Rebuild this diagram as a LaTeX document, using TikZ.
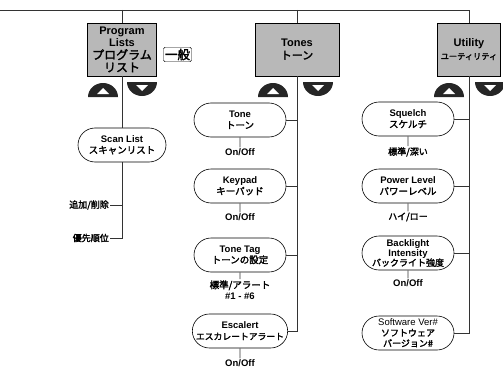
\documentclass[tikz,border=0pt]{standalone}
\usepackage{fontspec}
\setmainfont{Liberation Sans}
\newfontfamily\jp[AutoFakeBold=2.2]{Noto Sans CJK JP}
\usetikzlibrary{positioning,shapes.misc}
\tikzset{
    font=\bfseries\fontsize{9.5}{11}\selectfont,
    wire/.style={line width=0.6pt,black!80},
    menu head/.style={rectangle,draw,fill=black!28,align=center,minimum height=53pt,inner sep=1pt,font=\bfseries\fontsize{11}{12.5}\selectfont},
    menu item/.style={rounded rectangle,draw,line width=0.6pt,align=center,minimum width=94pt,minimum height=34pt,inner sep=1pt},
    menu value/.style={align=center,inner sep=1pt},
    upkey/.pic={
        \fill[black!85] (-15,0) arc[start angle=180,end angle=360,x radius=15,y radius=14] -- cycle;
        \fill[white] (-6,-3) -- (6,-3) -- (0,-9) -- cycle;
    },
    downkey/.pic={
        \fill[black!85] (-15,0) arc[start angle=180,end angle=0,x radius=15,y radius=14] -- cycle;
        \fill[white] (-6,3) -- (6,3) -- (0,9) -- cycle;
    }
}

\begin{document}
\begin{tikzpicture}[x=1pt,y=-1pt]
    \useasboundingbox (0,0) rectangle (503,369);
    \coordinate (topL) at (0,10);

    % column heads
    \node[menu head, minimum width=69pt] (prog) at (122,49.5) {Program\\Lists\\{\jp\fontsize{12}{12.5}\selectfont プログラム}\\{\jp\fontsize{12}{12.5}\selectfont リスト}};
    \node[draw, rounded corners=1.5pt, inner sep=1.5pt, font=\jp\bfseries\fontsize{12.5}{13}\selectfont] (gen) at (177.5,54.5) {一般};
    \node[menu head, minimum width=84pt] (tones) at (297,49.5) {Tones\\{\jp\fontsize{11}{12.5}\selectfont トーン}};
    \node[menu head, minimum width=63pt] (util) at (469,49.5) {Utility\\{\jp\fontsize{8.2}{12.5}\selectfont ユーティリティ}};

    \pic at (103,97) {upkey};
    \pic at (142,82) {downkey};
    \pic at (273,97) {upkey};
    \pic at (318,82) {downkey};
    \pic at (449,97) {upkey};
    \pic at (490,82) {downkey};

    % program lists
    \node[menu item, minimum width=90pt] (scan) at (122,145) {Scan List\\{\jp スキャンリスト}};
    \node[menu value, anchor=east, font=\jp\bfseries\fontsize{9}{11}\selectfont] (add) at (110,205) {追加/削除};
    \node[menu value, anchor=east, font=\jp\bfseries\fontsize{9}{11}\selectfont] (prio) at (110,238) {優先順位};

    % tones
    \node[menu item] (tone) at (240,120) {Tone\\{\jp トーン}};
    \node[menu item] (keypad) at (240,186) {Keypad\\{\jp キーパッド}};
    \node[menu item] (tonetag) at (240,255) {Tone Tag\\{\jp トーンの設定}};
    \node[menu item] (escal) at (240,331) {Escalert\\{\jp\fontsize{8.8}{11}\selectfont エスカレートアラート}};
    \node[menu value] (toneval) at (240,152) {On/Off};
    \node[menu value] (keyval) at (240,217) {On/Off};
    \node[menu value] (tagval) at (240,290) {{\jp 標準/アラート}\\\#1 - \#6};
    \node[menu value] (escval) at (240,363) {On/Off};

    % utility
    \node[menu item] (squelch) at (408,119) {Squelch\\{\jp スケルチ}};
    \node[menu item] (power) at (408,186) {Power Level\\{\jp パワーレベル}};
    \node[menu item, font=\bfseries\fontsize{9.5}{10}\selectfont] (backlight) at (408,253) {Backlight\\Intensity\\{\jp\fontsize{9}{10}\selectfont バックライト強度}};
    \node[menu item, font=\fontsize{9.5}{10.5}\selectfont] (swver) at (408,333) {Software Ver\#\\{\jp\bfseries\fontsize{9}{10.5}\selectfont ソフトウェア}\\{\jp\bfseries\fontsize{9}{10.5}\selectfont バージョン\#}};
    \node[menu value, font=\jp\bfseries\fontsize{9}{11}\selectfont] (sqval) at (408,152) {標準/深い};
    \node[menu value, font=\jp\bfseries\fontsize{9}{11}\selectfont] (powval) at (408,217) {ハイ/ロー};
    \node[menu value] (blval) at (408,283) {On/Off};

    % connectors
    \draw[wire] (topL) -| (util.north);
    \draw[wire] (prog.north |- topL) -- (prog.north);
    \draw[wire] (tones.north |- topL) -- (tones.north);
    \draw[wire] (prog.south) -- (scan.north);
    \draw[wire] (scan.south) |- (prio.east);
    \draw[wire] (add.east) -- (add.east -| scan.south);
    \draw[wire] (tones.south) |- (escal.east);
    \draw[wire] (tone.east) -- (tone.east -| tones.south);
    \draw[wire] (keypad.east) -- (keypad.east -| tones.south);
    \draw[wire] (tonetag.east) -- (tonetag.east -| tones.south);
    \draw[wire] (util.south) |- (swver.east);
    \draw[wire] (squelch.east) -- (squelch.east -| util.south);
    \draw[wire] (power.east) -- (power.east -| util.south);
    \draw[wire] (backlight.east) -- (backlight.east -| util.south);
    \draw[wire] (tone) -- (toneval);
    \draw[wire] (keypad) -- (keyval);
    \draw[wire] (tonetag) -- (tagval);
    \draw[wire] (escal) -- (escval);
    \draw[wire] (squelch) -- (sqval);
    \draw[wire] (power) -- (powval);
    \draw[wire] (backlight) -- (blval);
\end{tikzpicture}
\end{document}
